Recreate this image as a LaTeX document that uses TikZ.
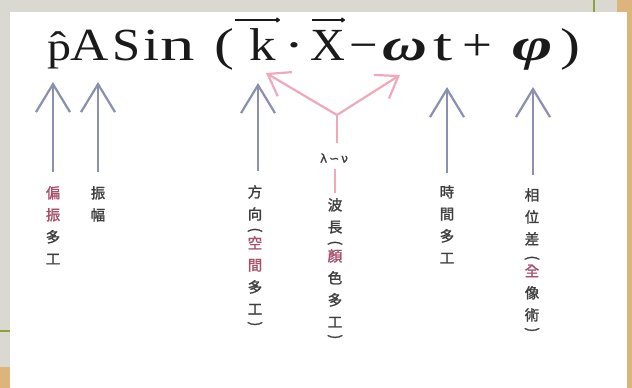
\documentclass[tikz,border=0pt]{standalone}
\usepackage{fontspec}
\usepackage{graphicx}
\setmainfont{Liberation Serif}
\newfontfamily\cjk[FakeBold=1.5]{Noto Sans CJK TC}
\newfontfamily\dvs[FakeBold=1]{DejaVu Sans}
\usetikzlibrary{arrows.meta,calc}
\definecolor{bggrey}{HTML}{D9D9D2}
\definecolor{wood}{HTML}{DDB47C}
\definecolor{leaf}{HTML}{8CA23A}
\definecolor{ink}{HTML}{1A1A1A}
\definecolor{arrowblue}{HTML}{8A90AE}
\definecolor{arrowpink}{HTML}{F0A8BA}
\definecolor{labgrey}{HTML}{3E3E3E}
\definecolor{labred}{HTML}{A8506A}
\newcommand\wideglyph[2][1.2]{\scalebox{#1}[1]{#2}}
\newcommand\vopen{\rotatebox[origin=c]{-90}{(}}
\newcommand\vclose{\rotatebox[origin=c]{-90}{)}}
\begin{document}
\begin{tikzpicture}[x=1pt,y=-1pt,
  glyph/.style={inner sep=0pt, anchor=base, text=ink, font=\fontsize{46}{50}\selectfont},
  vlabel/.style={inner sep=0pt, anchor=north, align=center, text=labgrey, font=\cjk\fontsize{14.5}{22}\selectfont},
  barrow/.style={draw=arrowblue, line width=2.2pt, -{Straight Barb[length=28pt,width=34pt]}},
  parrow/.style={draw=arrowpink, line width=2.2pt, -{Straight Barb[length=20pt,width=28pt]}},
  pline/.style={draw=arrowpink, line width=2.2pt},
  ovarrow/.style={draw=ink, line width=1.6pt, -{To[length=4pt,width=5pt]}}]
% background
\useasboundingbox (0,0) rectangle (632,388);
\fill[bggrey] (0,0) rectangle (632,388);
\fill[wood] (617,0) rectangle (632,388);
\fill[wood] (0,367) rectangle (10,388);
\fill[white] (10,12) rectangle (627,388);
\draw[leaf, line width=2.5pt] (594,0) -- (594,12);
\draw[leaf, line width=2.5pt] (0,331) -- (10,331);
% formula
\node[glyph, font=\fontsize{40}{45}\selectfont] (p) at (59,60) {\wideglyph{\^{p}}};
\node[glyph] (A) at (90,60) {\wideglyph[1.15]{A}};
\node[glyph] (S) at (127,60) {\wideglyph[1.1]{S}};
\node[glyph] (i) at (151,60) {\wideglyph[1.25]{i}};
\node[glyph] (n) at (178,60) {\wideglyph[1.5]{n}};
\node[glyph] (lp) at (224,60) {\wideglyph[1.3]{(}};
\node[glyph] (k) at (263,60) {\wideglyph[1.15]{k}};
\node[glyph] (dot) at (294,60) {\wideglyph[1.3]{·}};
\node[glyph] (X) at (328,60) {\wideglyph[1.05]{X}};
\node[glyph] (minus) at (364,60) {\wideglyph[1.1]{−}};
\node[glyph] (omega) at (405,60) {\wideglyph[1.35]{\textbf{\textit{ω}}}};
\node[glyph] (t) at (443,60) {\wideglyph[1.5]{t}};
\node[glyph] (plus) at (477,60) {\wideglyph[1.15]{+}};
\node[glyph] (phi) at (533,60) {\wideglyph[1.5]{\textbf{\textit{φ}}}};
\node[glyph] (rp) at (570,60) {\wideglyph[1.3]{)}};
\draw[ovarrow] ($(k.base)+(-28,-40)$) -- ($(k.base)+(17,-40)$);
\draw[ovarrow] ($(X.base)+(-16,-40)$) -- ($(X.base)+(17,-40)$);
% labels
\node[vlabel] (pol) at (53,186) {{\color{labred}偏}\\{\color{labred}振}\\多\\工};
\node[vlabel] (amp) at (98,186) {振\\幅};
\node[vlabel] (dir) at (255,185) {方\\向\\[-7pt]\vopen\\[-8pt]{\color{labred}空}\\{\color{labred}間}\\多\\工\\[-8pt]\vclose};
\node[inner sep=1pt, text=labgrey, font=\dvs\fontsize{12}{14}\selectfont] (lam) at (334,158) {λ\,∽\,ν};
\node[vlabel] (wave) at (335,198) {波\\長\\[-7pt]\vopen\\[-8pt]{\color{labred}顏}\\色\\多\\工\\[-8pt]\vclose};
\node[vlabel] (time) at (447,185) {時\\間\\多\\工};
\node[vlabel] (phase) at (532,188) {相\\位\\差\\[-4pt]\vopen\\[-8pt]{\color{labred}全}\\像\\術\\[-8pt]\vclose};
% blue arrows
\coordinate (t1) at (53,82);
\coordinate (t2) at (98,82);
\coordinate (t3) at (258,83);
\coordinate (t4) at (447,87);
\coordinate (t5) at (533,87);
\draw[barrow] ([yshift=14pt]pol.north) -- (t1);
\draw[barrow] ([yshift=14pt]amp.north) -- (t2);
\draw[barrow] ([yshift=14pt]dir.north -| t3) -- (t3);
\draw[barrow] ([yshift=12pt]time.north) -- (t4);
\draw[barrow] ([yshift=13pt]phase.north -| t5) -- (t5);
% pink Y
\coordinate (jn) at (337,115);
\coordinate (tl) at (266,73);
\coordinate (tr) at (400,75);
\coordinate (stemb) at ($(lam.north)+(0,-9)$);
\draw[pline] (stemb -| jn) -- (jn);
\draw[parrow] (jn) -- (tl);
\draw[parrow] (jn) -- (tr);
\draw[pline] ([yshift=-5pt]lam.south -| wave.north) -- ([yshift=5pt]wave.north);
\end{tikzpicture}
\end{document}
